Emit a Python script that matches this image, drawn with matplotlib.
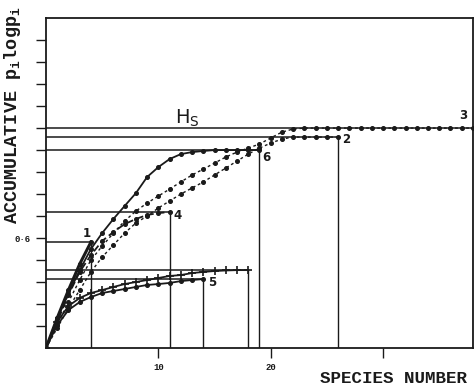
import matplotlib
matplotlib.use("Agg")
import matplotlib.pyplot as plt

# accumulative p_i log p_i against species number, one list per curve
x1 = [1, 2, 3, 4]
y1 = [0.164, 0.316, 0.458, 0.578]

x4 = list(range(1, 12))
y4 = [0.142, 0.289, 0.415, 0.507, 0.584, 0.633, 0.676, 0.704, 0.726, 0.736, 0.742]

x6 = list(range(1, 20))
y6 = [0.164, 0.295, 0.425, 0.540, 0.627, 0.704, 0.775, 0.845, 0.933, 0.987,
      1.031, 1.058, 1.069, 1.075, 1.080, 1.080, 1.080, 1.080, 1.080]

x2 = list(range(1, 27))
y2 = [0.109, 0.218, 0.316, 0.415, 0.496, 0.562, 0.627, 0.682, 0.720, 0.764,
      0.802, 0.840, 0.873, 0.906, 0.944, 0.982, 1.020, 1.058, 1.091, 1.118,
      1.140, 1.151, 1.151, 1.151, 1.151, 1.151]

x3 = list(range(1, 39))
y3 = [0.125, 0.251, 0.371, 0.480, 0.556, 0.627, 0.693, 0.747, 0.791, 0.829,
      0.867, 0.906, 0.944, 0.976, 1.009, 1.042, 1.069, 1.091, 1.113, 1.146,
      1.178, 1.195] + [1.200] * 16

x5 = list(range(1, 15))
y5 = [0.125, 0.207, 0.251, 0.278, 0.300, 0.311, 0.322, 0.333, 0.344, 0.349,
      0.355, 0.365, 0.371, 0.376]

xp = list(range(1, 19))
yp = [0.142, 0.229, 0.273, 0.300, 0.316, 0.333, 0.349, 0.360, 0.371, 0.382,
      0.393, 0.398, 0.409, 0.415, 0.420, 0.423, 0.425, 0.425]

curve_labels = ["1", "4", "6", "2", "3", "5"]

ink = "#1a1a1a"
mono = "Liberation Mono"

fig = plt.figure(figsize=(4.76, 3.89), dpi=100)
ax = fig.add_axes([0.0966, 0.1054, 0.897, 0.848])


def curve(x, y, **kw):
    # origin -> data points, then the level lines to both axes
    xs = [0] + list(x)
    ys = [0] + list(y)
    ax.plot(xs, ys, color=ink, **kw)
    ax.plot([0, x[-1]], [y[-1], y[-1]], color=ink, lw=1.1)
    ax.plot([x[-1], x[-1]], [0, y[-1]], color=ink, lw=1.0)


curve(x1, y1, lw=2.2, marker="o", ms=2.6)
curve(x4, y4, lw=1.3, ls=(0, (4, 2)), marker="o", ms=2.6)
curve(x6, y6, lw=1.3, marker="o", ms=2.6)
curve(x2, y2, lw=1.0, ls=(0, (2, 2)), marker="o", ms=2.6)
curve(x3, y3, lw=1.0, ls=(0, (2, 2)), marker="o", ms=2.6)
curve(x5, y5, lw=1.3, marker="o", ms=2.6)
curve(xp, yp, lw=1.3, marker="+", ms=6, mew=1.2)

label_pos = [(3.6, 0.627), (11.7, 0.725), (19.6, 1.042),
             (26.75, 1.14), (37.1, 1.27), (14.75, 0.355)]
for lab, (lx, ly) in zip(curve_labels, label_pos):
    ax.text(lx, ly, lab, fontsize=8.5, fontweight="bold", color=ink,
            ha="center", va="center")

ax.text(12.6, 1.255, "H$_\\mathregular{S}$", fontsize=14, color=ink,
        ha="center", va="center")

ax.set_xlim(0, 38.0)
ax.set_ylim(0, 1.8)
ax.set_xticks([10, 20, 30])
ax.set_xticklabels(["10", "20", ""], family=mono, fontweight="bold", fontsize=6.5)
yt = [0.12 * i for i in range(1, 15)]
ax.set_yticks(yt)
ax.set_yticklabels(["0·6" if i == 5 else "" for i in range(1, 15)],
                   family=mono, fontweight="bold", fontsize=6.5)
ax.tick_params(direction="out", length=7, width=1.0, colors=ink, pad=4)
for s in ax.spines.values():
    s.set_color(ink)
    s.set_linewidth(1.3)

fig.text(0.026, 0.705, "ACCUMULATIVE p$_\\mathregular{i}$logp$_\\mathregular{i}$",
         rotation=90, family=mono, fontweight="bold", fontsize=13.3,
         ha="center", va="center", color=ink)
fig.text(0.826, 0.028, "SPECIES NUMBER", family=mono, fontweight="bold",
         fontsize=12.6, ha="center", va="center", color=ink)

fig.savefig("out.png", dpi=100)
